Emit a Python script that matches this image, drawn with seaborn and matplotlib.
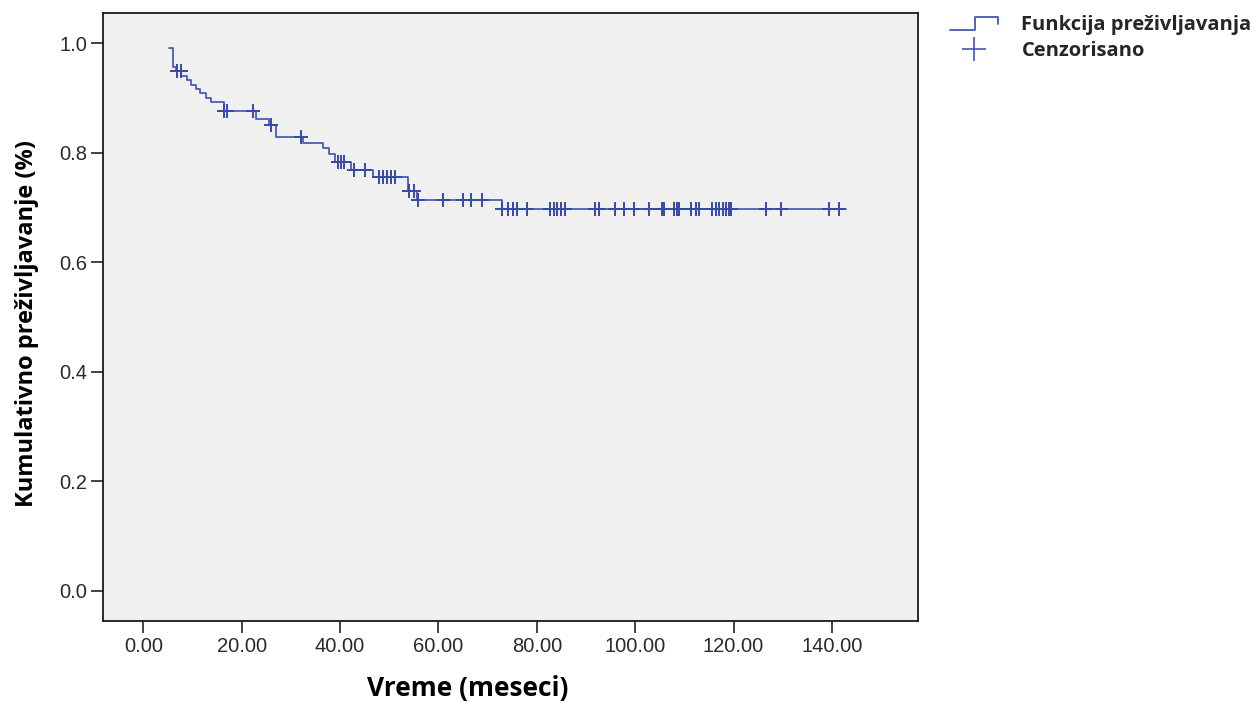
import numpy as np
import pandas as pd
import matplotlib
matplotlib.use("Agg")
import matplotlib.pyplot as plt
import seaborn as sns
from matplotlib.lines import Line2D
from matplotlib.legend_handler import HandlerBase

# ---- data ----
step_times = [5.2, 6.0, 6.6, 7.7, 8.8, 9.7, 10.7, 11.6, 12.8, 13.7, 16.3, 22.9, 25.6,
              27.0, 32.4, 36.5, 37.8, 39.0, 42.2, 46.6, 53.8, 55.6, 72.9, 142.9]
step_surv = [0.991, 0.957, 0.948, 0.940, 0.932, 0.924, 0.916, 0.908, 0.900, 0.893, 0.875,
             0.862, 0.851, 0.828, 0.818, 0.808, 0.798, 0.782, 0.768, 0.756, 0.729, 0.714,
             0.697, 0.697]
censored_times = [6.9, 7.6, 16.3, 17.1, 22.2, 25.9, 32.0, 39.5, 40.1, 40.8, 42.9, 45.0,
                  48.0, 48.7, 49.6, 50.4, 51.1, 54.1, 55.1, 55.8, 61.0, 64.9, 66.7, 68.8,
                  72.9, 74.1, 75.2, 75.9, 78.0, 82.7, 83.4, 84.1, 85.0, 85.8, 91.8, 92.6,
                  95.9, 97.7, 99.7, 102.8, 105.5, 105.9, 107.9, 108.6, 109.0, 111.3, 112.3,
                  113.0, 115.7, 116.4, 117.0, 117.8, 118.4, 119.0, 119.4, 126.6, 129.6,
                  139.5, 141.4]
x_ticks = [0, 20, 40, 60, 80, 100, 120, 140]
x_tick_labels = ["0.00", "20.00", "40.00", "60.00", "80.00", "100.00", "120.00", "140.00"]
y_ticks = [0.0, 0.2, 0.4, 0.6, 0.8, 1.0]
y_tick_labels = ["0.0", "0.2", "0.4", "0.6", "0.8", "1.0"]
legend_labels = ["Funkcija preživljavanja", "Cenzorisano"]
x_label = "Vreme (meseci)"
y_label = "Kumulativno preživljavanje (%)"

# survival level at each censored time (step function lookup)
idx = np.searchsorted(np.array(step_times), np.array(censored_times), side="right") - 1
censored_surv = np.array(step_surv)[idx]

curve_df = pd.DataFrame({"t": step_times, "s": step_surv})
cens_df = pd.DataFrame({"t": censored_times, "s": censored_surv})

sns.set_theme(style="white")
plt.rcParams["font.family"] = ["Liberation Sans", "DejaVu Sans"]

LINE_C = "#4556b2"
MARK_C = "#3848a6"

fig = plt.figure(figsize=(12.57, 7.04), dpi=100)
fig.patch.set_facecolor("white")
ax = fig.add_axes([103 / 1257, 1 - 621 / 704, (918 - 103) / 1257, (621 - 13) / 704])
ax.set_facecolor("#f0f0f0")

sns.lineplot(data=curve_df, x="t", y="s", ax=ax, color=LINE_C, lw=1.25,
             drawstyle="steps-post", estimator=None, sort=False)
ax.plot(cens_df["t"], cens_df["s"], linestyle="none", marker="+", markersize=9.5,
        mew=1.4, color=MARK_C)

ax.set_xlim(-8.2, 157.5)
ax.set_ylim(-0.0552, 1.0548)
ax.set_xticks(x_ticks)
ax.set_xticklabels(x_tick_labels)
ax.set_yticks(y_ticks)
ax.set_yticklabels(y_tick_labels)
ax.tick_params(axis="both", direction="out", length=8.5, width=1.2, color="#222222",
               labelsize=14.5, labelcolor="#2a2a2a", pad=3, left=True, bottom=True)
for side, sp in ax.spines.items():
    sp.set_color("#1a1a1a")
    sp.set_linewidth(1.3)

ax.set_xlabel(x_label, fontsize=19, fontweight="bold", family=["Open Sans", "DejaVu Sans"],
              color="black")
ax.xaxis.set_label_coords(0.448, -0.088)
ax.set_ylabel(y_label, fontsize=17, fontweight="bold", family=["Open Sans", "DejaVu Sans"],
              color="black")
ax.yaxis.set_label_coords(-0.078, 0.49)


class StepHandler(HandlerBase):
    def create_artists(self, legend, orig_handle, xdescent, ydescent, width, height,
                       fontsize, trans):
        x0 = -xdescent
        y0 = -ydescent
        xs = [x0, x0 + 0.52 * width, x0 + 0.52 * width, x0 + width, x0 + width]
        ys = [y0 + 0.0 * height, y0 + 0.0 * height, y0 + 0.95 * height,
              y0 + 0.95 * height, y0 + 0.45 * height]
        ln = Line2D(xs, ys, color=orig_handle.get_color(), lw=orig_handle.get_linewidth())
        ln.set_transform(trans)
        return [ln]


h_line = Line2D([], [], color=LINE_C, lw=1.3)
h_mark = Line2D([], [], color=LINE_C, linestyle="none", marker="+", markersize=17, mew=1.2)
leg = fig.legend([h_line, h_mark], legend_labels, loc="upper left",
                 bbox_to_anchor=(950 / 1257, 1 - 15 / 704), bbox_transform=fig.transFigure,
                 frameon=False, handlelength=2.4, handletextpad=1.15, labelspacing=0.3,
                 borderaxespad=0, borderpad=0,
                 handler_map={h_line: StepHandler()},
                 prop={"family": ["Open Sans", "DejaVu Sans"], "weight": "bold", "size": 14.5})

fig.savefig("out.png", dpi=100, facecolor="white")
